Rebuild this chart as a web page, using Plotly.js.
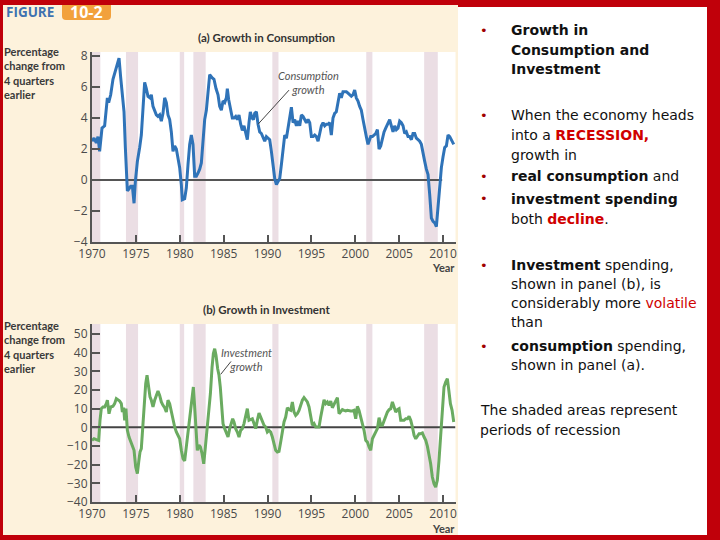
<!DOCTYPE html>
<html>
<head>
<meta charset="utf-8">
<script src="https://cdn.plot.ly/plotly-3.0.1.min.js"></script>
<style>
html,body{margin:0;padding:0;background:#c0000a;}
#chart{width:720px;height:540px;}
</style>
</head>
<body>
<div id="chart"></div>
<script>
// ---------- DATA ----------
const consYears = [1970.00,1970.23,1970.49,1970.68,1970.87,1971.14,1971.44,1971.75,1971.90,1972.13,1972.39,1972.66,1972.96,1973.08,1973.27,1973.46,1973.65,1973.80,1974.03,1974.18,1974.41,1974.60,1974.79,1974.94,1975.17,1975.43,1975.62,1975.81,1976.00,1976.19,1976.38,1976.61,1976.76,1976.95,1977.14,1977.33,1977.52,1977.71,1977.90,1978.09,1978.28,1978.47,1978.66,1978.85,1979.04,1979.23,1979.42,1979.61,1979.80,1979.99,1980.18,1980.29,1980.56,1980.75,1980.94,1981.13,1981.32,1981.51,1981.70,1981.89,1982.08,1982.27,1982.46,1982.65,1982.84,1983.03,1983.22,1983.41,1983.68,1983.90,1984.13,1984.36,1984.55,1984.74,1984.93,1985.12,1985.31,1985.42,1985.57,1985.80,1985.99,1986.18,1986.37,1986.56,1986.75,1986.94,1987.13,1987.32,1987.51,1987.70,1987.89,1988.04,1988.23,1988.39,1988.54,1988.73,1988.92,1989.11,1989.30,1989.49,1989.68,1989.87,1990.06,1990.25,1990.44,1990.63,1990.82,1991.01,1991.20,1991.39,1991.58,1991.77,1991.96,1992.15,1992.34,1992.53,1992.72,1992.91,1993.10,1993.29,1993.48,1993.67,1993.86,1994.05,1994.24,1994.43,1994.62,1994.81,1995.00,1995.19,1995.38,1995.57,1995.76,1995.95,1996.14,1996.33,1996.52,1996.71,1996.90,1997.08,1997.27,1997.46,1997.65,1997.84,1998.03,1998.22,1998.41,1998.60,1998.79,1998.98,1999.17,1999.36,1999.55,1999.74,1999.93,2000.12,2000.31,2000.50,2000.69,2000.88,2001.07,2001.26,2001.45,2001.57,2001.76,2001.95,2002.14,2002.33,2002.52,2002.71,2002.90,2003.09,2003.28,2003.47,2003.66,2003.92,2004.11,2004.30,2004.49,2004.68,2004.87,2005.06,2005.25,2005.44,2005.63,2005.82,2006.01,2006.20,2006.39,2006.58,2006.77,2006.96,2007.15,2007.34,2007.53,2007.72,2007.91,2008.10,2008.29,2008.48,2008.67,2008.86,2009.05,2009.24,2009.43,2009.62,2009.81,2010.00,2010.19,2010.38,2010.57,2010.76,2010.95,2011.22];
const consValues = [2.5,2.7,2.4,2.8,1.85,3.35,3.5,5.3,5.0,5.5,6.5,7.1,7.76,7.87,6.6,5.3,4.4,2.1,-0.7,-0.6,-0.4,-0.4,-1.5,-0.1,1.2,2.1,2.9,4.6,6.3,5.9,5.4,5.3,5.5,4.75,4.4,4.2,4.1,4.2,3.8,4.3,5.3,5.0,4.2,3.9,3.1,1.85,2.2,2.0,1.4,0.8,-0.3,-1.27,-1.2,-0.5,1.0,2.3,2.9,2.3,0.25,0.25,0.45,0.7,1.1,2.3,3.9,4.5,5.9,6.8,6.6,6.5,5.9,5.5,4.75,4.5,5.1,5.0,5.3,5.9,5.2,4.4,4.0,4.0,4.1,3.9,4.2,3.6,3.2,3.5,3.0,2.6,3.7,4.4,4.0,3.9,4.3,4.4,3.6,3.1,3.0,2.8,2.5,2.8,2.7,2.6,1.85,1.0,0.1,-0.3,-0.1,0.1,1.0,2.1,2.9,2.7,3.35,4.0,4.7,3.7,3.9,3.5,3.8,3.5,4.2,4.1,3.9,3.7,3.9,3.7,2.8,2.8,2.9,2.8,2.5,3.1,3.5,3.7,3.5,3.6,3.6,3.7,2.9,4.0,4.3,4.4,4.9,5.6,5.3,5.7,5.7,5.7,5.6,5.5,5.4,5.5,5.8,5.3,5.1,4.75,4.5,3.9,3.25,2.8,2.3,2.5,2.8,2.8,2.9,3.0,3.25,2.0,2.2,2.7,3.1,3.35,3.6,3.9,3.5,3.1,3.5,3.25,3.35,3.8,3.7,3.5,3.0,3.1,2.8,2.8,2.6,3.0,3.0,2.7,2.6,2.5,2.3,1.85,1.2,0.7,0.35,-0.95,-2.45,-2.67,-2.77,-3.0,-1.6,-0.3,0.8,1.5,2.1,2.2,2.9,2.8,2.6,2.3];

const invYears = [1970.00,1970.23,1970.49,1970.76,1970.91,1971.06,1971.25,1971.44,1971.63,1971.75,1971.94,1972.13,1972.39,1972.58,1972.77,1972.96,1973.15,1973.34,1973.46,1973.61,1973.72,1973.87,1974.03,1974.22,1974.41,1974.60,1974.79,1974.98,1975.17,1975.32,1975.47,1975.62,1975.77,1975.93,1976.12,1976.27,1976.42,1976.61,1976.76,1976.95,1977.14,1977.33,1977.52,1977.71,1977.90,1978.09,1978.28,1978.47,1978.66,1978.85,1979.04,1979.23,1979.42,1979.61,1979.80,1979.99,1980.18,1980.37,1980.56,1980.75,1980.94,1981.13,1981.32,1981.43,1981.55,1981.70,1981.89,1982.00,1982.19,1982.35,1982.54,1982.73,1982.92,1983.11,1983.30,1983.49,1983.68,1983.83,1983.98,1984.13,1984.32,1984.47,1984.62,1984.78,1984.93,1985.12,1985.31,1985.50,1985.69,1985.88,1986.03,1986.18,1986.37,1986.56,1986.75,1986.94,1987.13,1987.32,1987.51,1987.70,1987.89,1988.08,1988.27,1988.46,1988.65,1988.84,1989.03,1989.22,1989.41,1989.60,1989.79,1989.98,1990.17,1990.36,1990.55,1990.74,1990.93,1991.12,1991.31,1991.50,1991.69,1991.88,1992.07,1992.26,1992.45,1992.64,1992.83,1993.02,1993.21,1993.40,1993.59,1993.78,1993.97,1994.16,1994.35,1994.54,1994.73,1994.92,1995.11,1995.30,1995.49,1995.68,1995.87,1996.06,1996.25,1996.44,1996.63,1996.82,1997.01,1997.20,1997.39,1997.58,1997.77,1997.96,1998.15,1998.34,1998.53,1998.72,1998.91,1999.10,1999.29,1999.48,1999.67,1999.86,2000.05,2000.24,2000.43,2000.62,2000.81,2001.00,2001.19,2001.38,2001.57,2001.76,2001.95,2002.14,2002.33,2002.52,2002.71,2002.90,2003.09,2003.28,2003.47,2003.66,2003.85,2004.04,2004.23,2004.42,2004.61,2004.80,2004.99,2005.18,2005.37,2005.56,2005.75,2005.94,2006.13,2006.32,2006.51,2006.70,2006.89,2007.08,2007.27,2007.46,2007.65,2007.84,2008.03,2008.22,2008.40,2008.59,2008.78,2008.97,2009.16,2009.35,2009.54,2009.73,2009.92,2010.11,2010.30,2010.49,2010.66,2010.84,2011.03,2011.22];
const invValues = [-7.0,-6.1,-6.6,-7.0,3.75,10.0,10.9,10.9,12.7,14.5,7.3,10.9,11.3,12.7,15.4,14.8,14.1,12.7,8.2,10.5,3.75,10.0,-1.6,-5.2,-7.9,-9.6,-12.3,-21.3,-24.8,-18.6,-13.2,-11.4,0.2,14.5,23.4,27.9,22.5,16.3,14.5,10.9,14.5,17.1,19.5,17.1,13.6,11.8,10.5,8.2,14.5,12.7,8.2,3.75,0.2,-2.5,-4.3,-6.1,-12.3,-16.8,-18.0,-10.5,0.2,5.5,11.8,18.9,21.6,10.9,-2.5,-12.3,-9.6,-10.5,-14.1,-19.5,-10.5,-1.6,5.5,18.0,32.3,39.5,42.1,38.6,31.4,27.9,21.6,11.8,2.0,-0.7,-2.5,-5.2,-0.7,2.0,4.6,2.9,-0.7,-2.5,-5.2,-1.6,-0.7,2.0,5.5,10.0,3.75,4.1,4.6,2.0,-0.7,3.75,7.7,5.5,2.9,1.1,0.2,-2.5,-1.6,-2.5,-5.2,-9.6,-12.3,-13.2,-12.9,-7.9,-1.6,2.9,5.5,10.5,9.5,9.1,13.6,8.2,6.4,7.3,9.1,11.8,14.5,15.9,14.8,13.6,10.9,6.4,1.1,2.0,0.2,0.2,0.2,5.5,10.9,14.8,12.7,13.6,11.8,14.1,10.5,12.3,13.6,15.9,7.3,8.2,9.5,9.1,8.75,9.1,8.75,8.75,8.75,9.1,4.6,11.25,9.1,5.5,2.9,-1.6,-7.0,-7.9,-10.5,-12.3,-6.1,-4.3,-3.0,-0.7,5.2,1.1,1.1,3.75,6.4,8.2,9.5,10.0,13.6,10.5,8.2,9.5,10.0,3.75,3.75,3.75,4.6,4.6,5.9,3.75,0.2,-4.3,-6.1,-4.3,-3.4,-3.4,-3.0,-5.2,-7.0,-10.2,-14.1,-19.5,-26.6,-30.2,-32.0,-28.4,-17.7,-5.2,9.1,21.6,24.3,26.1,19.8,12.7,9.1,2.9];

const recessionStart = [1969.9, 1973.87, 1980.0, 1981.55, 1990.55, 2001.25, 2007.85];
const recessionEnd   = [1970.95, 1975.25, 1980.5, 1982.95, 1991.25, 2001.95, 2009.4];

const xTicks = [1970, 1975, 1980, 1985, 1990, 1995, 2000, 2005, 2010];
const consTicks = [-4, -2, 0, 2, 4, 6, 8];
const invTicks = [-40, -30, -20, -10, 0, 10, 20, 30, 40, 50];

// ---------- LAYOUT HELPERS ----------
const W = 720, H = 540;
const px = x => x / W;
const py = y => 1 - y / H;

const RED = '#c0000a', CREAM = '#fdf2dc';
const tickFont = {family: 'Open Sans, sans-serif', size: 12, color: '#4a4a4a'};

function xAxis(anchor) {
  return {
    anchor: anchor, domain: [px(92), px(455.5)], range: [1970, 2011.42],
    tickvals: xTicks, ticktext: xTicks.map(String),
    ticks: 'inside', ticklen: 7, tickwidth: 2, tickcolor: '#555',
    showline: true, linecolor: '#555', linewidth: 2,
    showgrid: false, zeroline: false, tickfont: tickFont, fixedrange: true
  };
}
function yAxis(anchor, dom, rng, ticks) {
  return {
    anchor: anchor, domain: dom, range: rng,
    tickvals: ticks,
    ticks: 'inside', ticklen: 8, tickwidth: 2, tickcolor: '#555',
    showline: true, linecolor: '#555', linewidth: 2,
    showgrid: false, zeroline: false, tickfont: tickFont, fixedrange: true
  };
}

const shapes = [];
// recession shading
['x', 'x2'].forEach((xr, i) => {
  const yr = i === 0 ? 'y domain' : 'y2 domain';
  recessionStart.forEach((s, k) => {
    shapes.push({type: 'rect', xref: xr, yref: yr, x0: Math.max(s, 1970), x1: recessionEnd[k], y0: 0, y1: 1,
      fillcolor: '#ebdee4', line: {width: 0}, layer: 'below'});
  });
});
// zero lines
shapes.push({type: 'line', xref: 'x', yref: 'y', x0: 1970, x1: 2009.9, y0: 0, y1: 0, line: {color: '#555', width: 2}, layer: 'below'});
shapes.push({type: 'line', xref: 'x2', yref: 'y2', x0: 1970, x1: 2011.42, y0: 0, y1: 0, line: {color: '#444', width: 2}, layer: 'below'});
// annotation leader lines
shapes.push({type: 'line', xref: 'x', yref: 'y', x0: 1992.45, y0: 5.8, x1: 1988.92, y1: 3.6, line: {color: '#444', width: 1}});
shapes.push({type: 'line', xref: 'x2', yref: 'y2', x0: 1985.84, y0: 35.3, x1: 1984.67, y1: 28.4, line: {color: '#444', width: 1}});
// white right panel
shapes.push({type: 'rect', xref: 'paper', yref: 'paper', x0: px(458), x1: px(707), y0: py(535), y1: py(7), fillcolor: '#ffffff', line: {width: 0}, layer: 'below'});
// red frame
[[0, 0, 720, 5], [0, 0, 3, 540], [707, 0, 720, 540], [0, 535, 720, 540], [458, 0, 720, 7]].forEach(r => {
  shapes.push({type: 'rect', xref: 'paper', yref: 'paper', x0: px(r[0]), x1: px(r[2]), y0: py(r[3]), y1: py(r[1]), fillcolor: RED, line: {width: 0}});
});
// orange badge
shapes.push({type: 'path', xref: 'paper', yref: 'paper',
  path: `M${px(62)},${py(5)} L${px(111)},${py(5)} L${px(111)},${py(16)} Q${px(111)},${py(20)} ${px(107)},${py(20)} L${px(66)},${py(20)} Q${px(62)},${py(20)} ${px(62)},${py(16)} Z`,
  fillcolor: '#f2a13c', line: {width: 0}});

const ann = [];
function A(x, y, text, opts) {
  ann.push(Object.assign({xref: 'paper', yref: 'paper', x: px(x), y: py(y), text: text, showarrow: false,
    xanchor: 'left', yanchor: 'middle', borderpad: 0, font: {family: 'Open Sans, sans-serif', size: 11, color: '#333'}}, opts || {}));
}
// header
A(5, 12, '<b>FIGURE</b>', {font: {family: 'Open Sans, sans-serif', size: 13.5, color: '#3f72b0'}});
A(86, 12.5, '<b>10-2</b>', {xanchor: 'center', font: {family: 'Open Sans, sans-serif', size: 16, color: '#ffffff'}});
// panel titles
A(266, 37, '<b>(a) Growth in Consumption</b>', {xanchor: 'center', font: {family: 'Lato, sans-serif', size: 11.5, color: '#333'}});
A(266, 309, '<b>(b) Growth in Investment</b>', {xanchor: 'center', font: {family: 'Lato, sans-serif', size: 11.5, color: '#333'}});
// y titles
const yTitleLines = ['Percentage', 'change from', '4 quarters', 'earlier'];
const yFont = {family: 'Lato, sans-serif', size: 11, color: '#3a3a3a'};
A(3, 73, '<b>' + yTitleLines.join('<br>') + '</b>', {align: 'left', font: yFont});
A(3, 347, '<b>' + yTitleLines.join('<br>') + '</b>', {align: 'left', font: yFont});
// Year labels
A(456, 267, '<b>Year</b>', {xanchor: 'right', font: {family: 'Lato, sans-serif', size: 11, color: '#444'}});
A(456, 528, '<b>Year</b>', {xanchor: 'right', font: {family: 'Lato, sans-serif', size: 11, color: '#444'}});
// series labels
const serFont = {family: 'Lato, sans-serif', size: 11, color: '#555'};
A(308, 83, '<i>Consumption<br>growth</i>', {xanchor: 'center', align: 'center', font: serFont});
A(246, 359.5, '<i>Investment<br>growth</i>', {xanchor: 'center', align: 'center', font: serFont});

// right-side text
const RC = '#d00000';
const textLines = [
  {y: 30, t: '<b>Growth in</b>', b: true},
  {y: 49.5, t: '<b>Consumption and</b>'},
  {y: 69, t: '<b>Investment</b>'},
  {y: 115, t: 'When the economy heads', b: true},
  {y: 135, t: `into a <b><span style="color:${RC}">RECESSION,</span></b>`},
  {y: 154.5, t: 'growth in'},
  {y: 176, t: '<b>real consumption</b> and', b: true},
  {y: 199, t: '<b>investment spending</b>', b: true},
  {y: 219, t: `both <b><span style="color:${RC}">decline</span></b>.`},
  {y: 265, t: '<b>Investment</b> spending,', b: true},
  {y: 284, t: 'shown in panel (b), is'},
  {y: 303, t: `considerably more <span style="color:${RC}">volatile</span>`},
  {y: 322, t: 'than'},
  {y: 346, t: '<b>consumption</b> spending,', b: true},
  {y: 365, t: 'shown in panel (a).'},
  {y: 410, t: 'The shaded areas represent', x: 479},
  {y: 430, t: 'periods of recession', x: 479}
];
const rFont = {family: 'DejaVu Sans, Verdana, sans-serif', size: 14, color: '#111'};
textLines.forEach(l => {
  A(l.x || 510, l.y, l.t, {font: rFont});
  if (l.b) A(484, l.y, '•', {xanchor: 'center', font: {family: 'DejaVu Sans, sans-serif', size: 13, color: '#a00000'}});
});

const data = [
  {x: consYears, y: consValues, type: 'scatter', mode: 'lines', xaxis: 'x', yaxis: 'y',
   line: {color: '#2f73b8', width: 3}, hoverinfo: 'skip'},
  {x: invYears, y: invValues, type: 'scatter', mode: 'lines', xaxis: 'x2', yaxis: 'y2',
   line: {color: '#6aab60', width: 3}, hoverinfo: 'skip'}
];

const layout = {
  width: W, height: H, margin: {l: 0, r: 0, t: 0, b: 0, pad: 0},
  paper_bgcolor: CREAM, plot_bgcolor: '#ffffff', showlegend: false,
  xaxis: xAxis('y'),
  yaxis: yAxis('x', [py(242), py(52)], [-4, 8.26], consTicks),
  xaxis2: xAxis('y2'),
  yaxis2: yAxis('x2', [py(502), py(324)], [-40, 55.36], invTicks),
  shapes: shapes, annotations: ann
};

Plotly.newPlot('chart', data, layout, {displayModeBar: false, staticPlot: true});
</script>
</body>
</html>
